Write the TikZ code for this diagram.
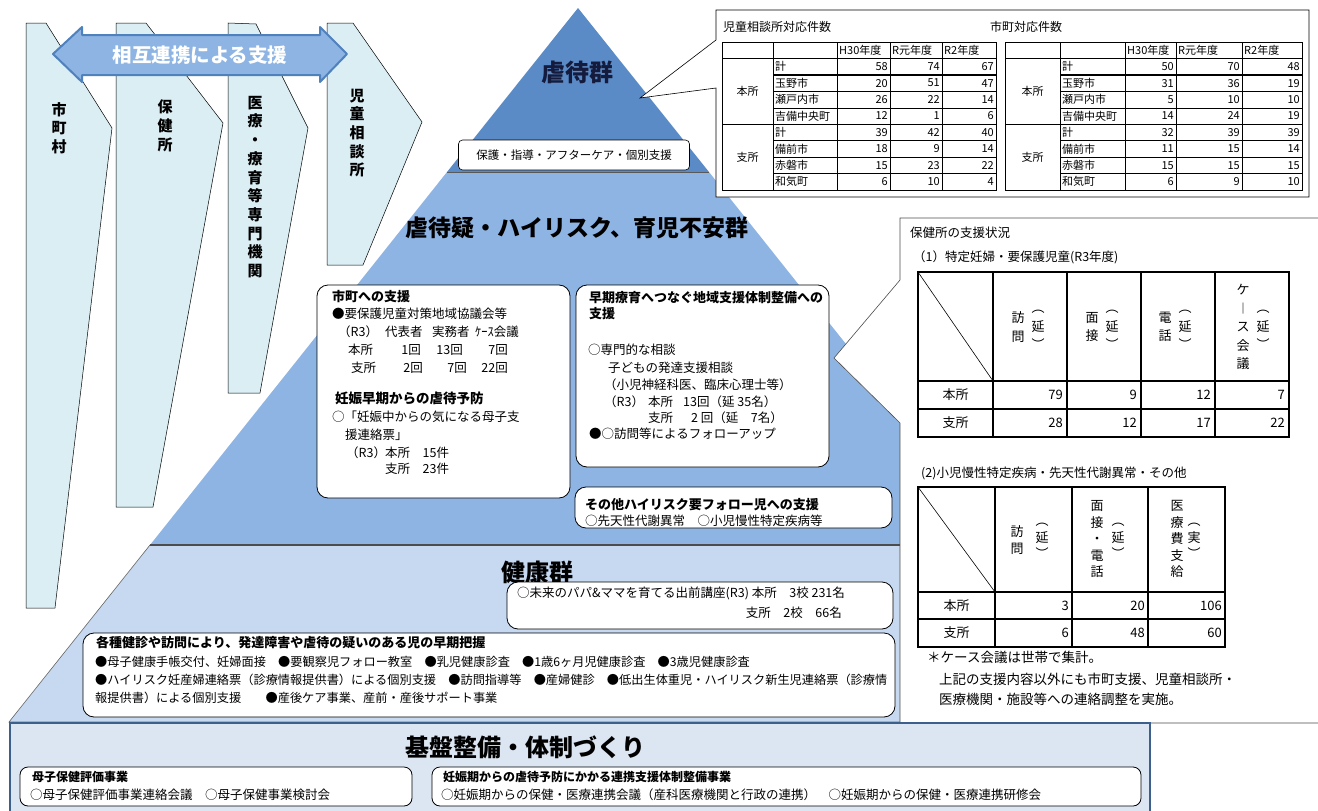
\documentclass[tikz,border=0pt]{standalone}
\usepackage{fontspec}
\setmainfont{Noto Sans CJK JP}
\usepackage{tikz}
\newcommand{\fsz}[2]{\fontsize{#1}{#2}\selectfont}
\newcommand{\picScale}[0]{1pt}

\definecolor{bannerFill}{HTML}{DBEEF4}
\definecolor{arrowFill}{HTML}{8DB4E2}
\definecolor{arrowEdge}{HTML}{4F81BD}
\definecolor{topLayer}{HTML}{5B8BC7}
\definecolor{midLayer}{HTML}{8EB4E3}
\definecolor{lowLayer}{HTML}{C6D9F1}
\definecolor{baseFill}{HTML}{DCE6F2}
\definecolor{baseEdge}{HTML}{3D5F8C}
\definecolor{titleInk}{HTML}{141B3C}

\begin{document}
\begin{tikzpicture}[x=\picScale, y=-\picScale]
  \tikzset{
    banner/.style={draw=black, line width=0.5pt, fill=bannerFill},
    bannertext/.style={font=\bfseries\fsz{15}{18.7}, align=center, inner sep=0pt},
    infobox/.style={draw=black, line width=0.8pt, fill=white, rounded corners=11pt},
    txt/.style={anchor=west, inner sep=0pt, font=\fsz{12.5}{16}},
    head/.style={anchor=west, inner sep=0pt, font=\bfseries\fsz{13}{16}},
    layertitle/.style={inner sep=0pt, font=\bfseries\fsz{24}{28}},
    cell/.style={inner sep=0pt, font=\fsz{11}{12}},
    num/.style={cell, anchor=east},
    bigcell/.style={inner sep=0pt, font=\fsz{13}{15}},
    bignum/.style={bigcell, anchor=east},
    vcol/.style={inner sep=0pt, align=center, font=\fsz{13}{18.5}},
    vcolD/.style={vcol, font=\fsz{13}{16.5}},
    grid/.style={line width=1.3pt}
  }
  \useasboundingbox (0,0) rectangle (1318,811);

  \draw[banner] (26,23) -- (46,23) -- (112,128) -- (55,608) -- (26,608) -- cycle;
  \draw[banner] (116,23) -- (146,23) -- (223,123) -- (153,507) -- (116,507) -- cycle;
  \draw[banner] (228,23) -- (256,24) -- (308,128) -- (260,393) -- (228,393) -- cycle;
  \draw[banner] (327,23) -- (353,23) -- (422,122) -- (363,265) -- (327,265) -- cycle;
  \node[bannertext] (shichoson) at (59,128) {市\\町\\村};
  \node[bannertext] (hokenjo) at (165,126) {保\\健\\所};
  \node[bannertext] (iryo) at (255,187) {医\\療\\・\\療\\育\\等\\専\\門\\機\\関};
  \node[bannertext] (jisou) at (357,133) {児\\童\\相\\談\\所};

  \filldraw[fill=arrowFill, draw=arrowEdge, line width=2pt, line join=round]
    (53,54) -- (82,27) -- (82,35) -- (320,35) -- (320,27) -- (347,54)
    -- (320,82) -- (320,75) -- (82,75) -- (82,82) -- cycle;
  \node[inner sep=0pt, text=white, font=\bfseries\fsz{19.5}{22}] (renkei) at (200,55) {相互連携による支援};

  % pyramid
  \fill[topLayer] (578,8) -- (447,172) -- (709,172) -- cycle;
  \fill[midLayer] (447,172) -- (150,545) -- (1006,545) -- (709,172) -- cycle;
  \filldraw[fill=lowLayer, draw=black!60, line width=0.6pt] (150,545) -- (9,722) -- (1147,722) -- (1006,545) -- cycle;
  \draw[line width=1pt, black!65] (447,172) -- (709,172);
  \draw[line width=1.6pt, black!70] (150,545) -- (1006,545);

  \node[layertitle, text=titleInk] (gyakutai) at (577,72) {虐待群};
  \node[draw, fill=white, rounded corners=4pt, line width=0.6pt, minimum width=231pt, minimum height=30pt,
        font=\fsz{11.5}{13}] (hogo) at (574,155) {保護・指導・アフターケア・個別支援};
  \node[layertitle, font=\bfseries\fsz{23}{26}] (utagai) at (577,228) {虐待疑・ハイリスク、育児不安群};
  \node[layertitle] (kenko) at (537,572) {健康群};

  % 児童相談所・市町
  \filldraw[fill=white, draw=black, line width=0.6pt] (716,10) -- (1309,10) -- (1309,197) -- (716,197)
    -- (716,88) -- (640,98) -- (716,40) -- cycle;
  \node[anchor=west, inner sep=0pt, font=\fsz{12}{14}] (jisouTitle) at (723,27) {児童相談所対応件数};
  \node[anchor=west, inner sep=0pt, font=\fsz{12}{14}] (shichoTitle) at (990,27) {市町対応件数};

  \draw[line width=0.9pt] (722,42) rectangle (996,190);
  \foreach \x in {773,837,890,942} \draw[line width=0.6pt] (\x,42) -- (\x,190);
  \draw[line width=0.9pt] (722,58.4) -- (996,58.4);
  \draw[line width=1.1pt] (722,124.2) -- (996,124.2);
  \foreach \y in {91.3,107.8,157.1,173.6} \draw[line width=0.5pt] (773,\y) -- (996,\y);
  \foreach \y in {74.9,140.7} \draw[line width=1.2pt] (773,\y) -- (996,\y);
  \node[cell, anchor=west] (aH) at (839,50.2) {H30年度};
  \node[cell, anchor=west] (aR) at (892,50.2) {R元年度};
  \node[cell, anchor=west] (aS) at (944,50.2) {R2年度};
  \node[cell] (aHon) at (747.5,91.3) {本所};
  \node[cell] (aShi) at (747.5,157.1) {支所};
  \foreach \nm/\a/\b/\c [count=\i] in {計/58/74/67,玉野市/20/51/47,瀬戸内市/26/22/14,吉備中央町/12/1/6,
      計/39/42/40,備前市/18/9/14,赤磐市/15/23/22,和気町/6/10/4}{
    \node[cell, anchor=west] (aName\i) at (775,{50.2+16.44*\i}) {\nm};
    \node[num] (aHn\i) at (888,{50.2+16.44*\i}) {\a};
    \node[num] (aRn\i) at (940,{50.2+16.44*\i}) {\b};
    \node[num] (aSn\i) at (994,{50.2+16.44*\i}) {\c};
  }

  \draw[line width=0.9pt] (1005,42) rectangle (1302,190);
  \foreach \x in {1060,1125,1176,1242} \draw[line width=0.6pt] (\x,42) -- (\x,190);
  \draw[line width=0.9pt] (1005,58.4) -- (1302,58.4);
  \draw[line width=1.1pt] (1005,124.2) -- (1302,124.2);
  \foreach \y in {91.3,107.8,157.1,173.6} \draw[line width=0.5pt] (1060,\y) -- (1302,\y);
  \foreach \y in {74.9,140.7} \draw[line width=1.2pt] (1060,\y) -- (1302,\y);
  \node[cell, anchor=west] (bH) at (1127,50.2) {H30年度};
  \node[cell, anchor=west] (bR) at (1178,50.2) {R元年度};
  \node[cell, anchor=west] (bS) at (1244,50.2) {R2年度};
  \node[cell] (bHon) at (1032.5,91.3) {本所};
  \node[cell] (bShi) at (1032.5,157.1) {支所};
  \foreach \nm/\a/\b/\c [count=\i] in {計/50/70/48,玉野市/31/36/19,瀬戸内市/5/10/10,吉備中央町/14/24/19,
      計/32/39/39,備前市/11/15/14,赤磐市/15/15/15,和気町/6/9/10}{
    \node[cell, anchor=west] (bName\i) at (1062,{50.2+16.44*\i}) {\nm};
    \node[num] (bHn\i) at (1174,{50.2+16.44*\i}) {\a};
    \node[num] (bRn\i) at (1240,{50.2+16.44*\i}) {\b};
    \node[num] (bSn\i) at (1300,{50.2+16.44*\i}) {\c};
  }

  % 保健所の支援状況
  \filldraw[fill=white, draw=black!70, line width=0.6pt] (900,218) -- (1320,218) -- (1320,723) -- (900,723)
    -- (900,423) -- (834,358) -- (900,280) -- cycle;
  \node[anchor=west, inner sep=0pt, font=\fsz{12.5}{14}] (hokenTitle) at (910,233) {保健所の支援状況};
  \node[anchor=west, inner sep=0pt, font=\fsz{12.5}{14}] (tokuteiTitle) at (913,257) {（1）特定妊婦・要保護児童(R3年度)};

  \draw[grid] (918,272) rectangle (1289,437);
  \foreach \x in {993,1067,1141,1215} \draw[grid] (\x,272) -- (\x,437);
  \draw[grid] (918,381) -- (1289,381);
  \draw[grid] (918,409) -- (1289,409);
  \draw[line width=0.6pt] (918,272) -- (993,381);
  \node[vcol] (cHomon) at (1018,327) {訪\\問};
  \node[vcol] (cHomonP) at (1038,330) {︵\\延\\︶};
  \node[vcol] (cMensetsu) at (1092,327) {面\\接};
  \node[vcol] (cMensetsuP) at (1112,330) {︵\\延\\︶};
  \node[vcol] (cDenwa) at (1165,327) {電\\話};
  \node[vcol] (cDenwaP) at (1185,330) {︵\\延\\︶};
  \node[vcol] (cCase) at (1243,327) {ケ\\︱\\ス\\会\\議};
  \node[vcol] (cCaseP) at (1263,330) {︵\\延\\︶};
  \node[bigcell] (cHon) at (955.5,395) {本所};
  \node[bigcell] (cShi) at (955.5,423) {支所};
  \foreach \a/\b/\c/\d/\y in {79/9/12/7/395,28/12/17/22/423}{
    \node[bignum] at (1063,\y) {\a};
    \node[bignum] at (1137,\y) {\b};
    \node[bignum] at (1211,\y) {\c};
    \node[bignum] at (1285,\y) {\d};
  }

  \node[anchor=west, inner sep=0pt, font=\fsz{12.5}{14}] (shouniTitle) at (921,473) {(2)小児慢性特定疾病・先天性代謝異常・その他};
  \draw[grid] (918,487) rectangle (1225,647);
  \foreach \x in {995,1072,1148} \draw[grid] (\x,487) -- (\x,647);
  \draw[grid] (918,592) -- (1225,592);
  \draw[grid] (918,619) -- (1225,619);
  \draw[line width=0.6pt] (918,487) -- (995,592);
  \node[vcolD] (dHomon) at (1017,540) {訪\\問};
  \node[vcolD] (dHomonP) at (1042,541) {︵\\延\\︶};
  \node[vcolD] (dMensetsu) at (1097,539) {面\\接\\・\\電\\話};
  \node[vcolD] (dMensetsuP) at (1118,541) {︵\\延\\︶};
  \node[vcolD] (dIryo) at (1177,539) {医\\療\\費\\支\\給};
  \node[vcolD] (dIryoP) at (1194,541) {︵\\実\\︶};
  \node[bigcell] (dHon) at (956.5,605.5) {本所};
  \node[bigcell] (dShi) at (956.5,633) {支所};
  \foreach \a/\b/\c/\y in {3/20/106/605.5,6/48/60/633}{
    \node[bignum] at (1069,\y) {\a};
    \node[bignum] at (1145,\y) {\b};
    \node[bignum] at (1222,\y) {\c};
  }
  \node[anchor=west, inner sep=0pt, font=\fsz{13.5}{15}] (caseNote) at (927,657) {＊ケース会議は世帯で集計。};
  \node[anchor=north west, inner sep=0pt, align=left, font=\fsz{13.5}{19.5}] (jokiNote) at (939,673)
    {上記の支援内容以外にも市町支援、児童相談所・\\医療機関・施設等への連絡調整を実施。};

  % 市町への支援
  \draw[infobox] (317,285) rectangle (570,498);
  \node[head] (shichoHead) at (332,297) {市町への支援};
  \node[txt] (yohogo) at (332,314) {●要保護児童対策地域協議会等};
  \node[txt] (r3a) at (338,332) {（R3）};
  \node[txt] (daihyo) at (385,332) {代表者};
  \node[txt] (jitsumu) at (432,332) {実務者};
  \node[txt] (kaigi) at (475,332) {ｹｰｽ会議};
  \node[txt] (honA) at (348,350) {本所};
  \node[txt, anchor=east] at (421,350) {1回};
  \node[txt, anchor=east] at (463,350) {13回};
  \node[txt, anchor=east] at (508,350) {7回};
  \node[txt] (shiA) at (351,368) {支所};
  \node[txt, anchor=east] at (423,368) {2回};
  \node[txt, anchor=east] at (467,368) {7回};
  \node[txt, anchor=east] at (508,368) {22回};
  \node[head, font=\bfseries\fsz{13.5}{16}] (ninshinHead) at (335,398) {妊娠早期からの虐待予防};
  \node[txt] (kininaru) at (332,417) {○「妊娠中からの気になる母子支};
  \node[txt] (renraku) at (345,435) {援連絡票」};
  \node[txt] (r3b) at (346,453) {（R3）};
  \node[txt] (honB) at (385,453) {本所　15件};
  \node[txt] (shiB) at (385,469) {支所　23件};

  % 早期療育
  \draw[infobox] (576,285) rectangle (829,467);
  \node[head, align=left] (soukiHead) at (589,306) {早期療育へつなぐ地域支援体制整備への\\支援};
  \node[txt] (senmon) at (588,350) {○専門的な相談};
  \node[txt] (hattatsu) at (608,368) {子どもの発達支援相談};
  \node[txt] (shinkei) at (604,385) {（小児神経科医、臨床心理士等）};
  \node[txt] (r3c) at (604,402) {（R3）};
  \node[txt] (honC) at (648,402) {本所};
  \node[txt] (honCn) at (683,402) {13回（延 35名）};
  \node[txt] (shiC) at (648,418) {支所};
  \node[txt] (shiCn) at (691,418) {2 回（延　7名）};
  \node[txt] (follow) at (589,434) {●○訪問等によるフォローアップ};

  % その他ハイリスク
  \draw[infobox] (575,487) rectangle (892,528);
  \node[head] (sonotaHead) at (585,505) {その他ハイリスク要フォロー児への支援};
  \node[txt] (sentensei) at (585,521) {○先天性代謝異常　○小児慢性特定疾病等};

  % 健康群
  \draw[infobox] (507,582) rectangle (893,629);
  \node[txt] (demae) at (517,593) {○未来のパパ\&ママを育てる出前講座(R3) 本所　3校 231名};
  \node[txt, anchor=east] (demaeShi) at (842,613) {支所　2校　66名};
  \draw[infobox] (83,633) rectangle (895,717);
  \node[head] (kenshinHead) at (96,643) {各種健診や訪問により、発達障害や虐待の疑いのある児の早期把握};
  \node[txt, font=\fsz{12.2}{16}] (kenshin1) at (95,662) {●母子健康手帳交付、妊婦面接　●要観察児フォロー教室　●乳児健康診査　●1歳6ヶ月児健康診査　●3歳児健康診査};
  \node[txt, font=\fsz{12.2}{16}] (kenshin2) at (95,680) {●ハイリスク妊産婦連絡票（診療情報提供書）による個別支援　●訪問指導等　●産婦健診　●低出生体重児・ハイリスク新生児連絡票（診療情};
  \node[txt, font=\fsz{12.2}{16}] (kenshin3) at (95,698) {報提供書）による個別支援　　●産後ケア事業、産前・産後サポート事業};

  % 基盤整備
  \filldraw[fill=baseFill, draw=baseEdge, line width=1.2pt] (10,723) rectangle (1150,815);
  \node[layertitle] (kiban) at (525,747) {基盤整備・体制づくり};
  \draw[infobox, rounded corners=8pt] (20,767) rectangle (412,806);
  \node[head, font=\bfseries\fsz{12}{14}] (boshiHead) at (32,777) {母子保健評価事業};
  \node[txt] (boshi) at (30,795) {○母子保健評価事業連絡会議　○母子保健事業検討会};
  \draw[infobox, rounded corners=8pt] (432,767) rectangle (1141,806);
  \node[head, font=\bfseries\fsz{12}{14}] (ninpuHead) at (443,777) {妊娠期からの虐待予防にかかる連携支援体制整備事業};
  \node[txt] (ninpu) at (441,795) {○妊娠期からの保健・医療連携会議（産科医療機関と行政の連携）　○妊娠期からの保健・医療連携研修会};
\end{tikzpicture}
\end{document}
